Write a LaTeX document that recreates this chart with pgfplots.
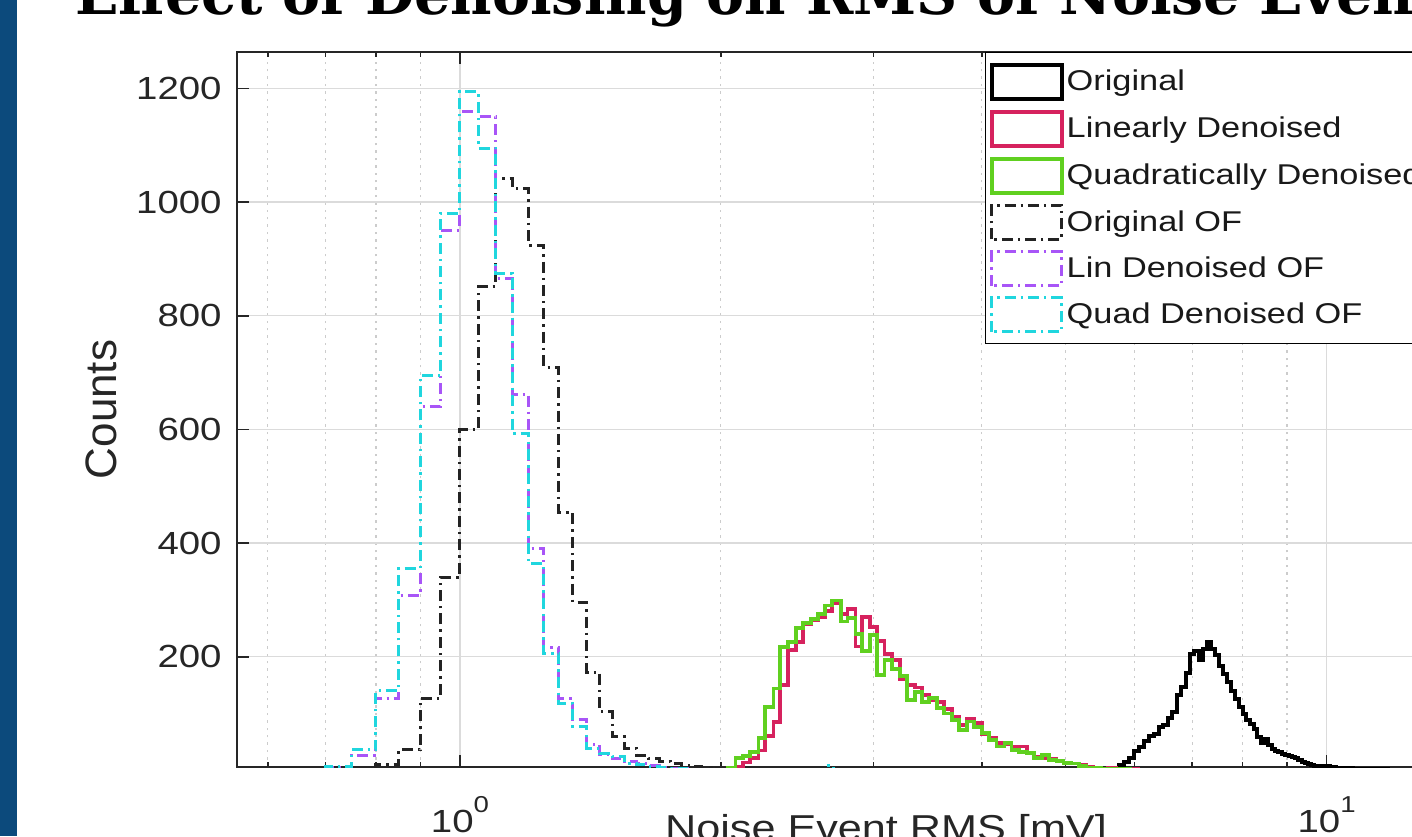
\documentclass[border=0pt]{standalone}
\usepackage{pgfplots}
\pgfplotsset{compat=1.18}
\usepackage{fontspec}
\setmainfont{Liberation Sans}[FakeStretch=1.2]
\newfontfamily\plainsans{Liberation Sans}
\newfontfamily\titlefont{DejaVu Serif}
\definecolor{linred}{RGB}{214,34,94}
\definecolor{quadgreen}{RGB}{96,208,32}
\definecolor{linof}{RGB}{168,85,247}
\definecolor{quadof}{RGB}{32,214,222}
\definecolor{origof}{RGB}{35,35,35}
\definecolor{slideblue}{RGB}{12,74,124}
\begin{document}
\begin{tikzpicture}
\path[use as bounding box] (-118.5pt,-34.5pt) rectangle (587.5pt,383.5pt);
\clip (-118.5pt,-34.5pt) rectangle (587.5pt,383.5pt);
\fill[white] (-118.5pt,-34.5pt) rectangle (587.5pt,383.5pt);
\fill[slideblue] (-118.5pt,-34.5pt) rectangle (-110pt,383.5pt);
\node[anchor=base west, inner sep=0pt, font=\titlefont\bfseries\fontsize{28.5}{34}\selectfont] at (-81pt,376pt) {Effect of Denoising on RMS of Noise Events};
\begin{axis}[
  scale only axis, width=649pt, height=357.5pt,
  at={(0pt,0pt)}, anchor=south west,
  xmode=log, xmin=0.553, xmax=17.4, ymin=6, ymax=1264,
  xtick={1,10},
  xticklabels={10\raisebox{0.62em}{\fontsize{11.5}{11.5}\selectfont 0},10\raisebox{0.62em}{\fontsize{11.5}{11.5}\selectfont 1}},
  minor xtick={0.6,0.7,0.8,0.9,2,3,4,5,6,7,8,9,20},
  ytick={200,400,600,800,1000,1200},
  minor ytick={},
  xmajorgrids, xminorgrids, ymajorgrids,
  major grid style={draw=black!14, line width=0.7pt},
  minor grid style={draw=black!20, line width=0.6pt, dash pattern=on 1.2pt off 2.5pt},
  axis line style={draw=black!85, line width=0.9pt},
  tick align=inside,
  major tick length=6pt, minor tick length=2.5pt,
  every tick/.style={draw=black!85, line width=0.8pt},
  /pgf/number format/assume math mode=true,
  /pgf/number format/1000 sep={},
  ticklabel style={font=\fontsize{16}{19}\selectfont, text=black!85},
  yticklabel style={anchor=east, inner sep=0pt, xshift=-7.5pt},
  xticklabel style={anchor=base, inner sep=0pt, yshift=-32.5pt},
  xlabel={Noise Event RMS [mV]},
  xlabel style={font=\fontsize{18}{21}\selectfont, text=black!85, at={(axis description cs:0.5,0)}, anchor=base, yshift=-36.5pt},
  ylabel={Counts},
  ylabel style={font=\plainsans\fontsize{22}{26}\selectfont, text=black!85, at={(axis description cs:-0.1048,0.5)}, anchor=center},
  legend style={at={(rel axis cs:0.5763,1)}, anchor=north west, draw=black, line width=0.7pt, fill=white, inner xsep=2pt, inner ysep=5pt, font=\fontsize{14.3}{17}\selectfont, row sep=4.6pt, text=black!90, nodes={inner sep=1.5pt}},
  legend cell align=left,
  legend image code/.code={\draw[#1] (0pt,-8.5pt) rectangle (35pt,8.5pt);},
]
% Original
\addplot[const plot, draw=black, line width=2pt] coordinates {
(5.60,2) (5.68,5) (5.76,10) (5.84,15) (5.92,22) (6.00,34) (6.08,42) (6.16,52) (6.24,60) (6.32,64) (6.40,76) (6.48,80) (6.56,92) (6.64,102) (6.72,132) (6.80,146) (6.88,172) (6.96,204) (7.04,210) (7.12,194) (7.20,214) (7.28,226) (7.36,214) (7.44,203) (7.52,183) (7.60,170) (7.68,156) (7.76,140) (7.84,126) (7.92,112) (8.00,100) (8.08,88) (8.16,82) (8.24,72) (8.32,58) (8.40,48) (8.48,56) (8.56,44) (8.64,38) (8.72,35) (8.80,33) (8.88,29) (8.96,27) (9.04,25) (9.12,24) (9.20,21) (9.28,18) (9.36,15) (9.44,13) (9.52,11) (9.60,9) (9.68,8) (9.76,8) (9.84,7) (9.92,6) (10.00,7) (10.08,5) (10.16,6) (10.24,4) (10.32,5) (10.40,3) (10.48,4) (10.56,3) (10.64,4) (10.72,2) (10.80,3) (10.88,2) (10.96,3) (11.04,2) (11.12,3) (11.20,2) (11.28,1) (11.36,2) (11.44,1) (11.52,2) (11.60,1) (11.68,2) (11.76,1) (11.84,1) (11.92,1) (12.00,0)};
% Linearly denoised
\addplot[const plot, draw=linred, line width=1.9pt] coordinates {
(2.00,0) (2.04,0) (2.08,6) (2.12,14) (2.16,22) (2.21,35) (2.25,60) (2.30,85) (2.34,150) (2.39,212) (2.44,226) (2.49,258) (2.54,264) (2.59,270) (2.64,280) (2.69,294) (2.75,275) (2.80,284) (2.86,218) (2.91,270) (2.97,252) (3.03,228) (3.09,205) (3.15,194) (3.22,160) (3.28,150) (3.35,146) (3.41,133) (3.48,124) (3.55,120) (3.62,108) (3.70,95) (3.77,80) (3.85,90) (3.92,84) (4.00,64) (4.08,58) (4.16,48) (4.25,46) (4.33,42) (4.42,42) (4.51,30) (4.60,24) (4.69,22) (4.78,20) (4.88,16) (4.97,14) (5.07,12) (5.18,10) (5.28,7) (5.38,5) (5.49,3) (5.60,4) (5.71,2) (5.83,3) (5.94,2) (6.06,0)};
% Quadratically denoised
\addplot[const plot, draw=quadgreen, line width=1.9pt] coordinates {
(2.00,0) (2.04,4) (2.08,22) (2.12,26) (2.16,33) (2.21,57) (2.25,112) (2.30,144) (2.34,217) (2.39,226) (2.44,250) (2.49,260) (2.54,267) (2.59,275) (2.64,290) (2.69,299) (2.75,262) (2.80,268) (2.86,240) (2.91,210) (2.97,238) (3.03,168) (3.09,194) (3.15,178) (3.22,166) (3.28,124) (3.35,138) (3.41,121) (3.48,127) (3.55,110) (3.62,100) (3.70,89) (3.77,71) (3.85,86) (3.92,77) (4.00,66) (4.08,54) (4.16,42) (4.25,48) (4.33,36) (4.42,33) (4.51,30) (4.60,22) (4.69,27) (4.78,18) (4.88,16) (4.97,13) (5.07,12) (5.18,8) (5.28,5) (5.38,4) (5.49,3) (5.60,3) (5.71,2) (5.83,3) (5.94,0)};
% Original OF
\addplot[const plot, draw=origof, line width=1.5pt, dash pattern=on 5.5pt off 2.5pt on 1.2pt off 2.5pt] coordinates {
(0.80,0) (0.80,10) (0.85,36) (0.90,127) (0.95,340) (1.00,599) (1.05,852) (1.10,1041) (1.15,1024) (1.20,924) (1.25,709) (1.30,454) (1.35,296) (1.40,173) (1.45,103) (1.50,59) (1.55,39) (1.60,27) (1.65,21) (1.70,16) (1.75,12) (1.80,9) (1.85,7) (1.90,5) (1.95,3) (2.00,0)};
% Lin denoised OF
\addplot[const plot, draw=linof, line width=1.5pt, dash pattern=on 5.5pt off 2.5pt on 1.2pt off 2.5pt] coordinates {
(0.70,0) (0.70,5) (0.75,27) (0.80,127) (0.85,308) (0.90,640) (0.95,950) (1.00,1160) (1.05,1150) (1.10,865) (1.15,662) (1.20,390) (1.25,217) (1.30,127) (1.35,89) (1.40,45) (1.45,28) (1.50,21) (1.55,15) (1.60,12) (1.65,8) (1.70,6) (1.75,4) (1.80,3) (1.85,2) (1.90,1) (1.95,1) (2.00,0)};
% Quad denoised OF
\addplot[const plot, draw=quadof, line width=1.5pt, dash pattern=on 5.5pt off 2.5pt on 1.2pt off 2.5pt] coordinates {
(0.70,0) (0.70,7) (0.75,36) (0.80,141) (0.85,355) (0.90,695) (0.95,980) (1.00,1195) (1.05,1095) (1.10,875) (1.15,592) (1.20,364) (1.25,206) (1.30,118) (1.35,77) (1.40,39) (1.45,30) (1.50,24) (1.55,12) (1.60,10) (1.65,7) (1.70,5) (1.75,4) (1.80,3) (1.85,2) (1.90,1) (1.95,1) (2.00,0) (2.65,8) (2.70,0)};
\legend{Original, Linearly Denoised, Quadratically Denoised, Original OF, Lin Denoised OF, Quad Denoised OF}
\end{axis}
\end{tikzpicture}
\end{document}
